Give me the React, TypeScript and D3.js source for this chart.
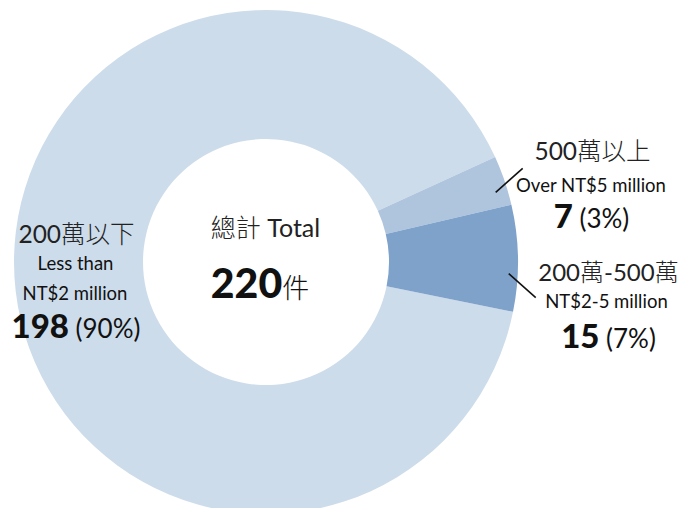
import React from "react";
import * as d3 from "d3";

const categories = ["200萬以下", "500萬以上", "200萬-500萬"];
const subLabels = [["Less than", "NT$2 million"], ["Over NT$5 million"], ["NT$2-5 million"]];
const counts = [198, 7, 15];
const percents = ["(90%)", "(3%)", "(7%)"];
const totalLabel = ["總計", "Total"];
const totalValue = "220";
const totalUnit = "件";
const colors = ["#cddcea", "#afc5de", "#7fa2cb"];

const W = 678, H = 508;
const cx = 266, cy = 262;
const outerR = 252, innerR = 123;
const startDeg = 101.4;

export default function App() {
  const pie = d3.pie<number>().sort(null).value((d) => d)
    .startAngle((startDeg * Math.PI) / 180)
    .endAngle((startDeg * Math.PI) / 180 + 2 * Math.PI);
  const arcs = pie(counts);
  const arc = d3.arc<d3.PieArcDatum<number>>().innerRadius(innerR).outerRadius(outerR);
  const pt = (a: number, r: number) => [Math.sin(a) * r, -Math.cos(a) * r];
  const latin = "Lato, 'Noto Sans', sans-serif";
  const cjk = "'Noto Sans CJK TC', sans-serif";
  const mid = (d: d3.PieArcDatum<number>) => (d.startAngle + d.endAngle) / 2;
  const l1s = pt(mid(arcs[1]) + 0.035, 240);
  const l2s = pt(mid(arcs[2]) + 0.063, 243);
  const bigNum = 33, pct = 26, sub = 18.5, cat = 24.5;
  return (
    <svg width={W} height={H} style={{ position: "absolute", left: 0, top: 0, background: "#fff" }}>
      <g transform={`translate(${cx},${cy})`}>
        {arcs.map((d, i) => (
          <path key={i} d={arc(d) || ""} fill={colors[i]} />
        ))}
        <line x1={l1s[0]} y1={l1s[1]} x2={l1s[0] + 27} y2={l1s[1] - 24} stroke="#111" strokeWidth={1.6} />
        <line x1={l2s[0]} y1={l2s[1]} x2={l2s[0] + 27} y2={l2s[1] + 24} stroke="#111" strokeWidth={1.6} />
      </g>
      {/* center */}
      <text x={265.5} y={237} textAnchor="middle" fontSize={25} fill="#222">
        <tspan fontFamily={cjk} fontWeight={300}>{totalLabel[0]}</tspan>
        <tspan fontFamily={latin}> {totalLabel[1]}</tspan>
      </text>
      <text x={260} y={298} textAnchor="middle" fill="#111">
        <tspan fontFamily={latin} fontWeight={900} fontSize={41}>{totalValue}</tspan>
        <tspan fontFamily={cjk} fontWeight={300} fontSize={27}>{totalUnit}</tspan>
      </text>
      {/* left */}
      <text x={76.5} y={243} textAnchor="middle" fontSize={cat} fill="#222">
        <tspan fontFamily={latin}>200</tspan>
        <tspan fontFamily={cjk} fontWeight={300}>{categories[0].slice(3)}</tspan>
      </text>
      <text x={75.5} y={270} textAnchor="middle" fontSize={sub} fontFamily={latin} fill="#111">{subLabels[0][0]}</text>
      <text x={75} y={300} textAnchor="middle" fontSize={sub} fontFamily={latin} fill="#111">{subLabels[0][1]}</text>
      <text x={76} y={338} textAnchor="middle" fill="#111" fontFamily={latin}>
        <tspan fontWeight={900} fontSize={bigNum}>{counts[0]}</tspan>
        <tspan fontSize={pct}> {percents[0]}</tspan>
      </text>
      {/* upper right */}
      <text x={592.5} y={160} textAnchor="middle" fontSize={cat} fill="#222">
        <tspan fontFamily={latin}>500</tspan>
        <tspan fontFamily={cjk} fontWeight={300}>{categories[1].slice(3)}</tspan>
      </text>
      <text x={591} y={192} textAnchor="middle" fontSize={sub} fontFamily={latin} fill="#111">{subLabels[1][0]}</text>
      <text x={591.5} y={228} textAnchor="middle" fill="#111" fontFamily={latin}>
        <tspan fontWeight={900} fontSize={bigNum}>{counts[1]}</tspan>
        <tspan fontSize={pct}> {percents[1]}</tspan>
      </text>
      {/* lower right */}
      <text x={608.5} y={281} textAnchor="middle" fontSize={24} fill="#222">
        <tspan fontFamily={latin}>200</tspan>
        <tspan fontFamily={cjk} fontWeight={300}>萬</tspan>
        <tspan fontFamily={latin}>-500</tspan>
        <tspan fontFamily={cjk} fontWeight={300}>萬</tspan>
      </text>
      <text x={606.5} y={308} textAnchor="middle" fontSize={sub} fontFamily={latin} fill="#111">{subLabels[2][0]}</text>
      <text x={608.5} y={348} textAnchor="middle" fill="#111" fontFamily={latin}>
        <tspan fontWeight={900} fontSize={bigNum}>{counts[2]}</tspan>
        <tspan fontSize={pct}> {percents[2]}</tspan>
      </text>
    </svg>
  );
}
